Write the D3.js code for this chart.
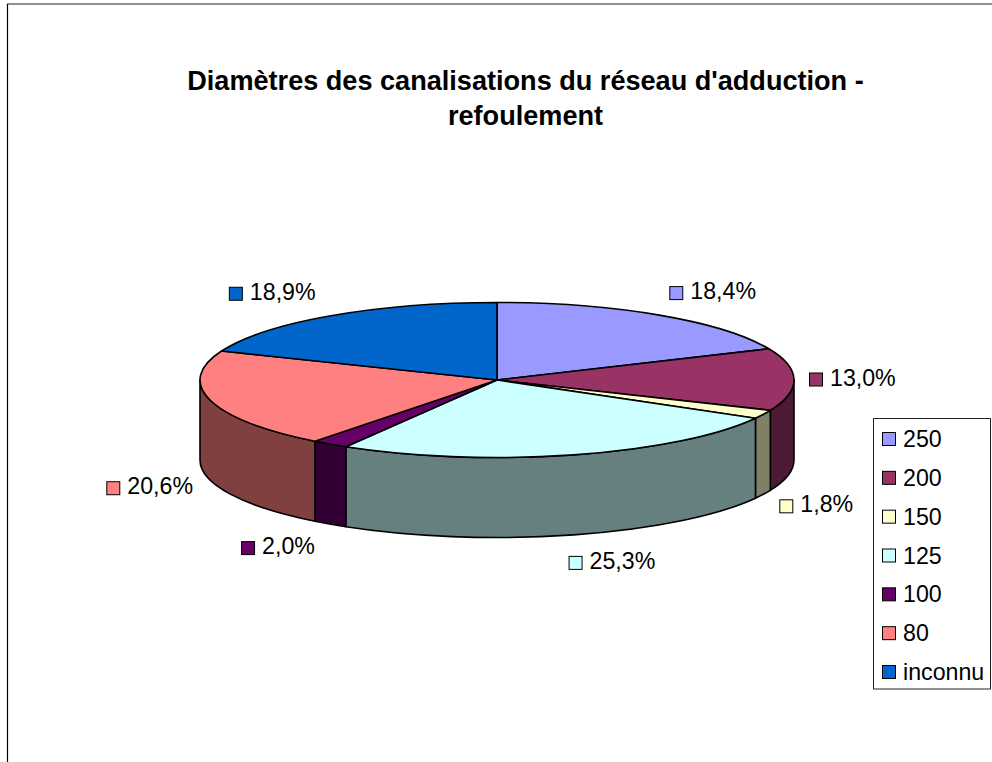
<!DOCTYPE html>
<html>
<head>
<meta charset="utf-8">
<script src="https://cdn.jsdelivr.net/npm/d3@7"></script>
<style>
html,body{margin:0;padding:0;background:#fff;overflow:hidden}
text{font-family:"Liberation Sans",Arial,sans-serif;fill:#000}
</style>
</head>
<body>
<script>
const categories = ["250","200","150","125","100","80","inconnu"];
const values = [18.4,13.0,1.8,25.3,2.0,20.6,18.9];
const faceColors = ["#9999FF","#993366","#FFFFCC","#CCFFFF","#660066","#FF8080","#0066CC"];
const titleLines = ["Diamètres des canalisations du réseau d'adduction -","refoulement"];

// Layout
const W = 992, H = 762;
const cx = 497, cy = 380, rx = 297, ry = 77.5, depth = 80;
const labelNudges = [[10,-22],[15,0],[16,92],[-5,108],[-89,104],[-104,88],[-102,-22]];
const fontSize = 23.2;

const svg = d3.select("body").append("svg").attr("width",W).attr("height",H).style("display","block");

// Page frame: top and left edges
svg.append("line").attr("x1",7).attr("y1",4).attr("x2",W).attr("y2",4).attr("stroke","#222").attr("stroke-width",1.2);
svg.append("line").attr("x1",7.5).attr("y1",4).attr("x2",7.5).attr("y2",H).attr("stroke","#000").attr("stroke-width",1.2);

// Title
svg.append("g").selectAll("text").data(titleLines).join("text")
  .attr("x",525.5).attr("y",(d,i)=>90+i*35)
  .attr("text-anchor","middle").attr("font-weight","bold").attr("font-size",27.1)
  .text(d=>d);

const color = d3.scaleOrdinal().domain(categories).range(faceColors);
const darker = c => { const r = d3.rgb(c); return d3.rgb(r.r/2,r.g/2,r.b/2).formatHex(); };

const pie = d3.pie().sort(null).value((d,i)=>values[i]);
const slices = pie(categories);

const ex = a => cx + rx*Math.sin(a);
const ey = a => cy - ry*Math.cos(a);

// Side walls: only the part of each slice that faces the viewer
const wallMin = Math.PI/2, wallMax = 3*Math.PI/2;
const wallPath = s => {
  const a0 = Math.max(s.startAngle,wallMin), a1 = Math.min(s.endAngle,wallMax);
  if (a1 <= a0) return null;
  return `M${ex(a0)},${ey(a0)}A${rx},${ry} 0 0 1 ${ex(a1)},${ey(a1)}`+
         `L${ex(a1)},${ey(a1)+depth}A${rx},${ry} 0 0 0 ${ex(a0)},${ey(a0)+depth}Z`;
};
svg.append("g").selectAll("path").data(slices.filter(wallPath)).join("path")
  .attr("d",wallPath)
  .attr("fill",d=>darker(color(d.data)))
  .attr("stroke","#000").attr("stroke-width",1.6).attr("stroke-linejoin","round");

// Top face
const arc = d3.arc().innerRadius(0).outerRadius(rx);
svg.append("g").attr("transform",`translate(${cx},${cy}) scale(1,${ry/rx})`)
  .selectAll("path").data(slices).join("path")
  .attr("d",arc)
  .attr("fill",d=>color(d.data))
  .attr("stroke","#000").attr("stroke-width",1.6).attr("stroke-linejoin","round")
  .attr("vector-effect","non-scaling-stroke");

// Data labels with legend key
const fmt = v => v.toFixed(1).replace(".",",")+"%";
const lab = svg.append("g").selectAll("g").data(slices).join("g")
  .attr("transform",(d,i)=>{
    const m = (d.startAngle+d.endAngle)/2;
    return `translate(${ex(m)+labelNudges[i][0]},${ey(m)+labelNudges[i][1]})`;
  });
lab.append("rect").attr("x",0.5).attr("y",-6.5).attr("width",13).attr("height",13)
  .attr("fill",d=>color(d.data)).attr("stroke","#000").attr("stroke-width",1);
lab.append("text").attr("x",21).attr("y",6).attr("font-size",fontSize).text((d,i)=>fmt(values[i]));

// Legend
const legend = svg.append("g");
legend.append("rect").attr("x",873.5).attr("y",418.5).attr("width",117).attr("height",270.5)
  .attr("fill","#fff").attr("stroke","#222").attr("stroke-width",1);
const ly = d3.scalePoint().domain(categories).range([439,672]);
const li = legend.selectAll("g.i").data(categories).join("g").attr("class","i")
  .attr("transform",d=>`translate(882,${ly(d)})`);
li.append("rect").attr("x",0.5).attr("y",-6.5).attr("width",13).attr("height",13)
  .attr("fill",d=>color(d)).attr("stroke","#000").attr("stroke-width",1);
li.append("text").attr("x",21).attr("y",8).attr("font-size",fontSize).text(d=>d);
</script>
</body>
</html>
